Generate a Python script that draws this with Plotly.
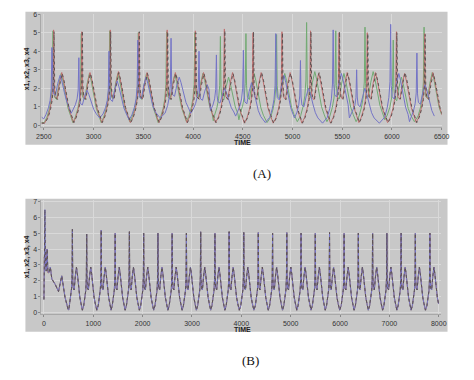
import plotly.graph_objects as go

# ---------------- Panel A data (per series, one entry per oscillation cycle) ----------------
A_X1_PEAK_T = [2598, 2882, 3168, 3456, 3740, 4023, 4315, 4603, 4894, 5181, 5468, 5752, 6045, 6329]
A_X1_PEAK_V = [5.15, 5.05, 5.15, 5.0, 5.15, 5.1, 5.2, 5.0, 5.05, 5.1, 5.0, 5.0, 5.05, 4.95]
A_X1_SEC_V = [2.85, 2.85, 2.9, 2.85, 2.85, 2.85, 2.85, 2.85, 2.85, 2.8, 2.85, 2.85, 2.8, 2.85]
A_X1_LOW_V = [0.12, 0.15, 0.15, 0.15, 0.15, 0.15, 0.15, 0.12, 0.12, 0.12, 0.12, 0.15, 0.15, 0.15]

A_X2_PEAK_T = [2592, 2876, 3162, 3450, 3734, 4017, 4275, 4532, 4840, 5142, 5435, 5729, 6013, 6323]
A_X2_PEAK_V = [5.1, 4.95, 5.1, 5.0, 5.05, 5.0, 4.8, 4.95, 4.9, 5.55, 5.1, 5.3, 4.6, 5.3]
A_X2_SEC_V = [2.8, 2.8, 2.8, 2.8, 2.75, 2.8, 2.6, 2.8, 2.8, 2.9, 2.8, 2.9, 2.6, 2.85]
A_X2_LOW_V = [0.15, 0.15, 0.15, 0.2, 0.15, 0.2, 0.25, 0.3, 0.15, 0.2, 0.2, 0.2, 0.3, 0.2]

A_X3_PEAK_T = [2581, 2852, 3155, 3445, 3779, 4060, 4235, 4506, 4832, 5080, 5409, 5645, 5987, 6251]
A_X3_PEAK_V = [4.2, 3.65, 4.0, 4.6, 4.7, 4.0, 3.8, 4.06, 4.95, 3.5, 5.15, 3.0, 5.45, 3.9]
A_X3_SEC_V = [2.7, 1.9, 2.4, 2.6, 2.6, 2.2, 2.0, 2.3, 2.7, 2.0, 2.8, 2.0, 2.8, 2.2]
A_X3_LOW_V = [0.35, 0.65, 0.4, 0.3, 0.4, 0.65, 0.6, 0.5, 0.15, 0.2, 0.12, 0.4, 0.12, 0.2]

A_X4_PEAK_T = [2603, 2887, 3172, 3460, 3745, 4028, 4320, 4608, 4899, 5186, 5473, 5757, 6050, 6334]
A_X4_PEAK_V = [5.05, 5.1, 5.05, 5.05, 5.05, 5.0, 5.1, 5.05, 5.0, 5.05, 5.05, 4.95, 5.0, 4.9]
A_X4_SEC_V = [2.8, 2.8, 2.85, 2.8, 2.8, 2.8, 2.8, 2.85, 2.8, 2.85, 2.8, 2.8, 2.85, 2.8]
A_X4_LOW_V = [0.12, 0.15, 0.15, 0.15, 0.15, 0.15, 0.15, 0.12, 0.12, 0.12, 0.12, 0.15, 0.15, 0.15]

A_START_V = [0.12, 0.15, 0.45, 0.12]   # x1, x2, x3, x4 at the left edge

# ---------------- Panel B data ----------------
# initial transient (time, value)
B_X1_INIT_T = [0, 8, 18, 28, 42, 62, 80, 100, 130, 160, 230, 295, 340, 361, 390, 427, 492]
B_X1_INIT_V = [0.8, 3.5, 3.0, 3.6, 2.7, 4.0, 2.5, 2.5, 2.85, 2.1, 1.75, 1.3, 1.9, 2.3, 1.7, 0.94, 0.15]
B_X3_INIT_T = [0, 10, 20, 30, 45, 65, 80, 100, 130, 160, 230, 295, 340, 361, 390, 427, 492]
B_X3_INIT_V = [0.8, 3.0, 6.5, 3.2, 2.6, 4.0, 2.6, 2.5, 2.85, 2.1, 1.75, 1.3, 1.9, 2.3, 1.7, 0.94, 0.15]

B_PEAK_T = [577, 866, 1161, 1444, 1732, 2021, 2310, 2598, 2887, 3176, 3465, 3753, 4049,
            4344, 4633, 4921, 5210, 5499, 5787, 6083, 6371, 6660, 6949, 7238, 7526, 7821]
B_PEAK_V = [5.25, 4.95, 5.2, 5.0, 5.1, 5.0, 5.0, 5.0, 5.0, 5.1, 5.0, 5.1, 5.05,
            5.05, 5.0, 5.05, 5.0, 5.0, 5.05, 5.0, 5.0, 5.0, 5.0, 5.0, 5.0, 5.0]
B_SEC_V = [2.85] * 26
B_LOW_V = [0.15] + [0.12] * 25

PRE_DT = [-60, -35, -18, -7]
PRE_F = [0.06, 0.155, 0.26, 0.42]
POST_DT = [6, 15, 35, 58, 82, 100, 125, 150, 175]
POST_F = [0.75, 0.52, 0.47, 0.78, 1.0, 0.85, 0.55, 0.3, 0.15]

SERIES = ["x1", "x2", "x3", "x4"]
COLORS = {"x1": "#c07070", "x2": "#72aa72", "x3": "#7474c6", "x4": "#5e5252"}
DASH = {"x1": "solid", "x2": "solid", "x3": "solid", "x4": "dot"}


def build(ts, vs, peaks, heights, secs, lows, end_t):
    ts = list(ts)
    vs = list(vs)
    n = len(peaks)
    for i, p in enumerate(peaks):
        m = lows[i]
        h = heights[i]
        s = secs[i]
        rise_start = p + PRE_DT[0]
        if rise_start - ts[-1] > 20:
            ts.append((ts[-1] + rise_start) / 2)
            vs.append(m)
        for dt, f in zip(PRE_DT, PRE_F):
            if p + dt > ts[-1]:
                ts.append(p + dt)
                vs.append(m + f * (h - m))
        ts.append(p)
        vs.append(h)
        m2 = lows[i + 1] if i + 1 < n else lows[i]
        nxt = peaks[i + 1] if i + 1 < n else end_t + 1000
        for dt, f in zip(POST_DT, POST_F):
            if p + dt < nxt + PRE_DT[0] - 5:
                ts.append(p + dt)
                vs.append(m2 + f * (s - m2))
    return ts, vs


A_DATA = {
    "x1": (A_X1_PEAK_T, A_X1_PEAK_V, A_X1_SEC_V, A_X1_LOW_V, A_START_V[0]),
    "x2": (A_X2_PEAK_T, A_X2_PEAK_V, A_X2_SEC_V, A_X2_LOW_V, A_START_V[1]),
    "x3": (A_X3_PEAK_T, A_X3_PEAK_V, A_X3_SEC_V, A_X3_LOW_V, A_START_V[2]),
    "x4": (A_X4_PEAK_T, A_X4_PEAK_V, A_X4_SEC_V, A_X4_LOW_V, A_START_V[3]),
}

fig = go.Figure()

order = ["x2", "x1", "x3", "x4"]
for name in order:
    pk, hv, sv, lv, st = A_DATA[name]
    t, v = build([2476], [st], pk, hv, sv, lv, 6500)
    fig.add_trace(go.Scatter(x=t, y=v, mode="lines", name=name, xaxis="x", yaxis="y",
                             line=dict(color=COLORS[name], width=1, dash=DASH[name])))

for name in order:
    if name in ("x1", "x2"):
        it, iv = B_X1_INIT_T, B_X1_INIT_V
    else:
        it, iv = B_X3_INIT_T, B_X3_INIT_V
    t, v = build(it, iv, B_PEAK_T, B_PEAK_V, B_SEC_V, B_LOW_V, 8040)
    fig.add_trace(go.Scatter(x=t, y=v, mode="lines", name=name, xaxis="x2", yaxis="y2",
                             line=dict(color=COLORS[name], width=1, dash=DASH[name])))

W, H = 474, 380
def px(x):
    return x / W
def py(y):
    return 1 - y / H

BOX = "#c8c8c8"
GRID = "#d9d9d9"
tickfont = dict(family="Liberation Sans, Arial, sans-serif", size=7, color="#333333")
axis_common = dict(showgrid=True, gridcolor=GRID, gridwidth=1, zeroline=False,
                   showline=True, linecolor="#a8a8a8", ticks="outside", ticklen=2,
                   tickcolor="#888888", tickfont=tickfont)

fig.update_layout(
    width=W, height=H, margin=dict(l=0, r=0, t=0, b=0),
    paper_bgcolor="white", plot_bgcolor=BOX, showlegend=False,
    xaxis=dict(domain=[px(37.5), px(449)], range=[2476, 6500], tickvals=list(range(2500, 6501, 500)),
               anchor="y", **axis_common),
    yaxis=dict(domain=[py(125.2), py(10.3)], range=[-0.1, 6.0], tickvals=list(range(0, 7)),
               anchor="x", **axis_common),
    xaxis2=dict(domain=[px(37.5), px(448)], range=[-50, 8040], tickvals=list(range(0, 8001, 1000)),
                anchor="y2", **axis_common),
    yaxis2=dict(domain=[py(315.4), py(199.4)], range=[-0.15, 7.1], tickvals=list(range(0, 8)),
                anchor="x2", **axis_common),
    shapes=[
        dict(type="rect", xref="paper", yref="paper", x0=px(21), x1=px(455), y0=py(143), y1=py(8),
             fillcolor=BOX, line=dict(width=0), layer="below"),
        dict(type="rect", xref="paper", yref="paper", x0=px(21), x1=px(455), y0=py(333), y1=py(198),
             fillcolor=BOX, line=dict(width=0), layer="below"),
    ],
)

lab = dict(family="Liberation Sans, Arial, sans-serif", size=7, color="#222222")
ann = [
    dict(text="<b>x1, x2, x3, x4</b>", x=px(23), y=py(66), textangle=-90, font=lab),
    dict(text="<b>TIME</b>", x=px(244), y=py(140.5), font=lab),
    dict(text="<b>x1, x2, x3, x4</b>", x=px(23), y=py(257), textangle=-90, font=lab),
    dict(text="<b>TIME</b>", x=px(244), y=py(331), font=lab),
    dict(text="(A)", x=px(264), y=py(172), font=dict(family="Liberation Serif, Times New Roman, serif", size=13, color="#111111")),
    dict(text="(B)", x=px(252), y=py(362), font=dict(family="Liberation Serif, Times New Roman, serif", size=13, color="#111111")),
]
for a in ann:
    a.update(xref="paper", yref="paper", showarrow=False, xanchor="center", yanchor="middle")
fig.update_layout(annotations=ann)

fig.write_html("out.html", config={"displayModeBar": False, "staticPlot": True},
               post_script="document.body.style.margin='0';document.body.style.overflow='hidden';")
